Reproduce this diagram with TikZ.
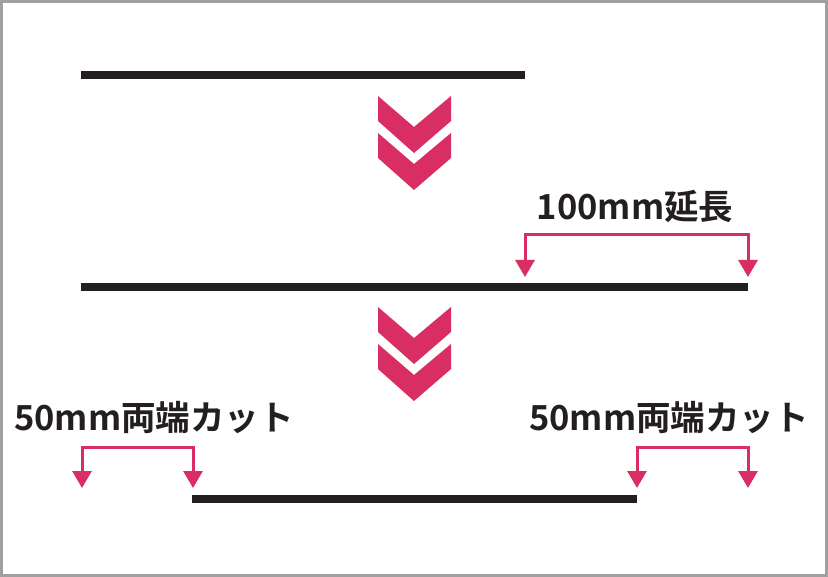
\documentclass[tikz,border=0pt]{standalone}
\usepackage{fontspec}
\setmainfont{Noto Sans CJK JP Bold}
\newfontfamily\jpbold{Noto Sans CJK JP Bold}
\usetikzlibrary{arrows.meta}
\definecolor{ink}{RGB}{35,31,32}
\definecolor{rose}{RGB}{217,46,100}
\definecolor{frame}{RGB}{160,160,160}
\tikzset{
  bar/.style={draw=ink, line width=7.5pt, line cap=butt},
  bracket/.style={draw=rose, line width=3pt, line join=miter,
    {Triangle[width=19pt,length=17pt]}-{Triangle[width=19pt,length=17pt]}},
  label/.style={text=ink, font=\jpbold\fontsize{34.5pt}{40pt}\selectfont, inner sep=0pt, anchor=center},
  chev/.style={fill=rose, draw=none}
}
\begin{document}
\begin{tikzpicture}[x=1pt,y=-1pt]
\useasboundingbox (0,0) rectangle (828,577);
\fill[white] (0,0) rectangle (828,577);
\draw[frame, line width=3pt] (1.5,1.5) rectangle (826.5,575.5);
% bars
\coordinate (a1) at (81,75);  \coordinate (a2) at (525,75);
\coordinate (b1) at (81,287); \coordinate (b2) at (748,287);
\coordinate (c1) at (192,499);\coordinate (c2) at (637,499);
\draw[bar] (a1) -- (a2);
\draw[bar] (b1) -- (b2);
\draw[bar] (c1) -- (c2);
% chevrons
\foreach \y in {96,133,307,344}{
  \fill[chev] (378,\y) -- (414,\y+31) -- (451,\y) -- (451,\y+25) -- (414,\y+57) -- (378,\y+25) -- cycle;
}
% labels
\node[label] (t1) at (635,207) {100mm延長};
\node[label] (t2) at (154,418) {50mm両端カット};
\node[label] (t3) at (669,418) {50mm両端カット};
% brackets
\coordinate (p1) at (525,277); \coordinate (p2) at (525,235);
\coordinate (p3) at (748,235); \coordinate (p4) at (748,277);
\draw[bracket] (p1) -- (p2) -- (p3) -- (p4);
\coordinate (q1) at (82,488); \coordinate (q2) at (82,448);
\coordinate (q3) at (193,448); \coordinate (q4) at (193,488);
\draw[bracket] (q1) -- (q2) -- (q3) -- (q4);
\coordinate (r1) at (637,488); \coordinate (r2) at (637,448);
\coordinate (r3) at (748,448); \coordinate (r4) at (748,488);
\draw[bracket] (r1) -- (r2) -- (r3) -- (r4);
\end{tikzpicture}
\end{document}
